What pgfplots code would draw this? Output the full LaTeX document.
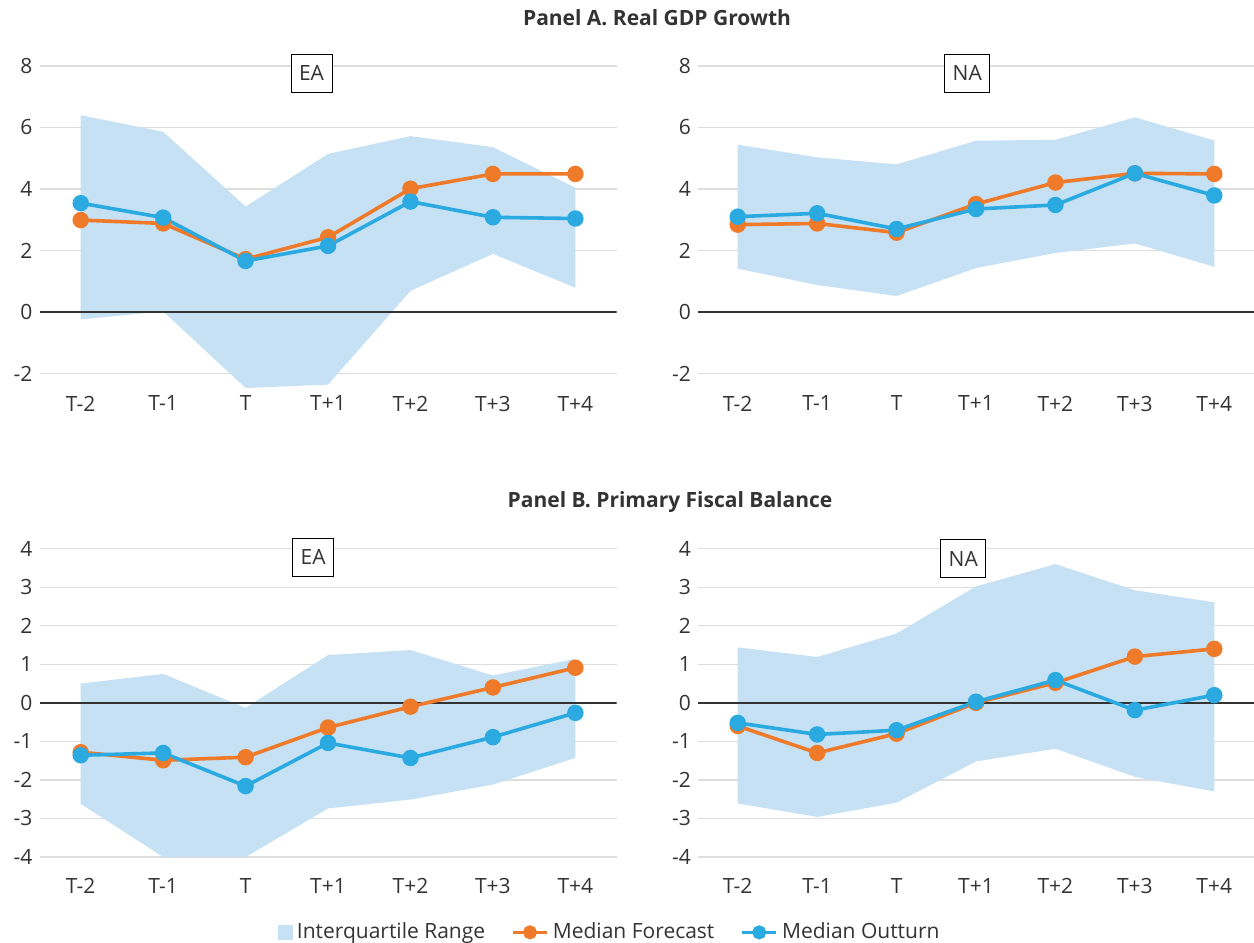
\documentclass[border=0pt]{standalone}
\usepackage{fontspec}
\setmainfont{Open Sans}
\usepackage{pgfplots}
\usepackage{pgfplotstable}
\pgfplotsset{compat=1.18}
\definecolor{bandc}{HTML}{C5E1F3}
\definecolor{orng}{HTML}{EF7A29}
\definecolor{blu}{HTML}{2AAAE1}
\definecolor{gridc}{HTML}{DDDDDD}
\definecolor{txt}{HTML}{333333}
\definecolor{zeroc}{HTML}{333333}

% medians
\pgfplotstableread{
x fc out
0 2.99 3.54
1 2.88 3.07
2 1.72 1.66
3 2.43 2.15
4 4.01 3.59
5 4.49 3.08
6 4.49 3.04
}\gdpEA
\pgfplotstableread{
x fc out
0 2.84 3.10
1 2.88 3.21
2 2.58 2.70
3 3.51 3.35
4 4.21 3.48
5 4.51 4.51
6 4.49 3.79
}\gdpNA
\pgfplotstableread{
x fc out
0 -1.28 -1.36
1 -1.49 -1.30
2 -1.41 -2.16
3 -0.64 -1.04
4 -0.10 -1.43
5 0.40 -0.89
6 0.91 -0.26
}\fbEA
\pgfplotstableread{
x fc out
0 -0.60 -0.52
1 -1.30 -0.82
2 -0.80 -0.71
3 0.00 0.03
4 0.52 0.59
5 1.20 -0.19
6 1.40 0.20
}\fbNA

% interquartile range: upper edge left to right, then lower edge right to left
\pgfplotstableread{
x y
0 6.40
1 5.86
2 3.43
3 5.14
4 5.72
5 5.36
6 4.04
6 0.79
5 1.89
4 0.69
3 -2.36
2 -2.47
1 0.02
0 -0.24
}\gdpEAband
\pgfplotstableread{
x y
0 5.44
1 5.03
2 4.80
3 5.57
4 5.60
5 6.33
6 5.58
6 1.47
5 2.23
4 1.92
3 1.43
2 0.52
1 0.88
0 1.41
}\gdpNAband
\pgfplotstableread{
x y
0 0.50
1 0.75
2 -0.13
3 1.24
4 1.37
5 0.71
6 1.14
6 -1.43
5 -2.12
4 -2.51
3 -2.74
2 -4.00
1 -4.00
0 -2.62
}\fbEAband
\pgfplotstableread{
x y
0 1.44
1 1.19
2 1.80
3 3.02
4 3.60
5 2.92
6 2.61
6 -2.30
5 -1.92
4 -1.19
3 -1.52
2 -2.59
1 -2.96
0 -2.61
}\fbNAband

\newcommand{\lblfont}{\fontsize{10.5}{12}\selectfont}

\tikzset{boxlbl/.style={draw=black, fill=white, font=\lblfont, text=txt, inner sep=4pt, minimum height=19pt}}

\pgfplotsset{
  panel/.style={
    scale only axis,
    xmin=-0.5, xmax=6.5,
    xtick={0,...,6},
    xticklabels={T-2,T-1,T,T+1,T+2,T+3,T+4},
    axis line style={draw=none},
    major tick length=0pt,
    ymajorgrids,
    grid style={gridc, line width=0.6pt},
    tick label style={font=\lblfont, text=txt},
    /pgf/number format/assume math mode=true,
  },
  fcst/.style={orng, line width=1.8pt, mark=*, mark size=3.2pt, mark options={fill=orng, draw=orng}},
  outt/.style={blu, line width=1.8pt, mark=*, mark size=3.2pt, mark options={fill=blu, draw=blu}},
}

\begin{document}
\begin{tikzpicture}
\path[use as bounding box] (0,0) rectangle (627pt,-471.5pt);

\node[font=\bfseries\lblfont, text=txt] at (328.5pt,-9pt) {Panel A. Real GDP Growth};
\node[font=\bfseries\lblfont, text=txt] at (335pt,-251pt) {Panel B. Primary Fiscal Balance};

% Top-left
\begin{axis}[panel, at={(19.75pt,-194.45pt)}, anchor=south west,
  width=288.55pt, height=170.7pt, ymin=-2.5, ymax=8.6, ytick={-2,0,...,8}]
  \addplot[fill=bandc, draw=none, forget plot] table[x=x, y=y] {\gdpEAband};
  \draw[zeroc, line width=0.7pt] (axis cs:-0.5,0) -- (axis cs:6.5,0);
  \addplot[fcst, forget plot] table[x=x, y=fc] {\gdpEA};
  \addplot[outt, forget plot] table[x=x, y=out] {\gdpEA};
  \node[boxlbl] at (axis cs:2.8,7.76) {EA};
\end{axis}

% Top-right
\begin{axis}[panel, at={(349pt,-194.45pt)}, anchor=south west,
  width=278pt, height=170.7pt, ymin=-2.5, ymax=8.6, ytick={-2,0,...,8}]
  \addplot[fill=bandc, draw=none, forget plot] table[x=x, y=y] {\gdpNAband};
  \draw[zeroc, line width=0.7pt] (axis cs:-0.5,0) -- (axis cs:6.5,0);
  \addplot[fcst, forget plot] table[x=x, y=fc] {\gdpNA};
  \addplot[outt, forget plot] table[x=x, y=out] {\gdpNA};
  \node[boxlbl] at (axis cs:2.89,7.76) {NA};
\end{axis}

% Bottom-left
\begin{axis}[panel, at={(19.75pt,-428.5pt)}, anchor=south west,
  width=288.55pt, height=163.8pt, ymin=-4, ymax=4.5, ytick={-4,...,4},
  xticklabel style={yshift=-7pt},
  legend style={at={(0.99,-0.23)}, anchor=center, legend columns=3, draw=none, fill=none,
    font=\lblfont, text=txt, /tikz/every even column/.append style={column sep=11pt}},
  ]
  \addplot[fill=bandc, draw=none, forget plot] table[x=x, y=y] {\fbEAband};
  \draw[zeroc, line width=0.7pt] (axis cs:-0.5,0) -- (axis cs:6.5,0);
  \addplot[fcst, forget plot] table[x=x, y=fc] {\fbEA};
  \addplot[outt, forget plot] table[x=x, y=out] {\fbEA};
  \node[boxlbl] at (axis cs:2.82,3.78) {EA};
  \addlegendimage{legend image code/.code={\fill[bandc] (0pt,-3.5pt) rectangle (7pt,3.5pt);}}
  \addlegendentry{Interquartile Range}
  \addlegendimage{fcst, mark size=2.6pt}
  \addlegendentry{Median Forecast}
  \addlegendimage{outt, mark size=2.6pt}
  \addlegendentry{Median Outturn}
\end{axis}

% Bottom-right
\begin{axis}[panel, at={(349pt,-428.5pt)}, anchor=south west,
  width=278pt, height=163.8pt, ymin=-4, ymax=4.5, ytick={-4,...,4},
  xticklabel style={yshift=-7pt}]
  \addplot[fill=bandc, draw=none, forget plot] table[x=x, y=y] {\fbNAband};
  \draw[zeroc, line width=0.7pt] (axis cs:-0.5,0) -- (axis cs:6.5,0);
  \addplot[fcst, forget plot] table[x=x, y=fc] {\fbNA};
  \addplot[outt, forget plot] table[x=x, y=out] {\fbNA};
  \node[boxlbl] at (axis cs:2.84,3.74) {NA};
\end{axis}
\end{tikzpicture}
\end{document}
